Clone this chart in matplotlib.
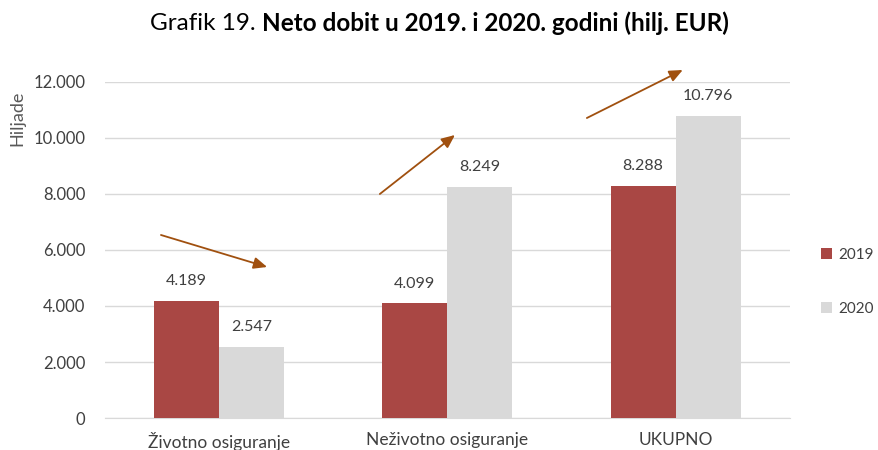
import matplotlib
matplotlib.use("Agg")
import matplotlib.pyplot as plt
import numpy as np

plt.rcParams['font.family'] = ['Lato', 'DejaVu Sans']

categories = ["Životno osiguranje", "Neživotno osiguranje", "UKUPNO"]
series_names = ["2019", "2020"]
values_2019 = [4189, 4099, 8288]
values_2020 = [2547, 8249, 10796]
yticks = [0, 2000, 4000, 6000, 8000, 10000, 12000]
ytick_labels = ["0", "2.000", "4.000", "6.000", "8.000", "10.000", "12.000"]
title_normal = "Grafik 19. "
title_bold = "Neto dobit u 2019. i 2020. godini (hilj. EUR)"

# arrows (start, end) in data coordinates
arrows = [((-0.255, 6536), (0.21, 5393)),
          ((0.704, 8000), (1.033, 10107)),
          ((1.611, 10714), (2.031, 12429))]

red = "#A94744"
gray = "#D9D9D9"
txt = "#404040"

fig = plt.figure(figsize=(8.79, 4.5), dpi=100)
ax = fig.add_axes([0.1195, 0.0711, 0.779, 0.7467])

x = np.arange(len(categories))
w = 0.285
b1 = ax.bar(x - w/2, values_2019, w, color=red, label=series_names[0], zorder=3)
b2 = ax.bar(x + w/2, values_2020, w, color=gray, label=series_names[1], zorder=3)

def fmt(v):
    return f"{v:,}".replace(",", ".")

for bars, vals in ((b1, values_2019), (b2, values_2020)):
    for r, v in zip(bars, vals):
        ax.text(r.get_x() + r.get_width()/2, v + 450, fmt(v), ha="center", va="bottom",
                fontsize=11.5, color=txt)

ax.set_xlim(-0.5, 2.5)
ax.set_ylim(0, 12000)
ax.set_yticks(yticks)
ax.set_yticklabels(ytick_labels, fontsize=12, color=txt)
ax.set_xticks(x)
ax.set_xticklabels(categories, fontsize=12.5, color=txt)
ax.tick_params(axis="both", length=0)
ax.tick_params(axis="y", pad=14)
ax.tick_params(axis="x", pad=10)
ax.grid(axis="y", color="#D9D9D9", linewidth=1, zorder=0)
for s in ["top", "right", "left"]:
    ax.spines[s].set_visible(False)
ax.spines["bottom"].set_color("#D9D9D9")

for (s, e) in arrows:
    ax.annotate("", xy=e, xytext=s, annotation_clip=False,
                arrowprops=dict(arrowstyle="-|>,head_length=0.8,head_width=0.35",
                                color="#A0500F", lw=1.3, shrinkA=0, shrinkB=0))

fig.text(0.02, 0.738, "Hiljade", rotation=90, fontsize=13, color="#595959",
         ha="center", va="center")

# title: normal + bold parts, centred together
tsize = 17.5
t1 = fig.text(0, 0.948, title_normal, fontsize=tsize, color="black", ha="left", va="center")
t2 = fig.text(0, 0.948, title_bold, fontsize=tsize, color="black", fontweight="bold",
              ha="left", va="center")
fig.canvas.draw()
r = fig.canvas.get_renderer()
w1 = t1.get_window_extent(r).width
w2 = t2.get_window_extent(r).width
W = fig.bbox.width
start = 439 - (w1 + w2) / 2
t1.set_x(start / W)
t2.set_x((start + w1) / W)

leg = ax.legend(loc="center left", bbox_to_anchor=(1.045, 0.405), frameon=False,
                fontsize=11, labelspacing=2.6, handlelength=0.75, handleheight=0.75,
                handletextpad=0.4, borderpad=0, borderaxespad=0)
for t in leg.get_texts():
    t.set_color(txt)

fig.savefig("out.png", dpi=100)
